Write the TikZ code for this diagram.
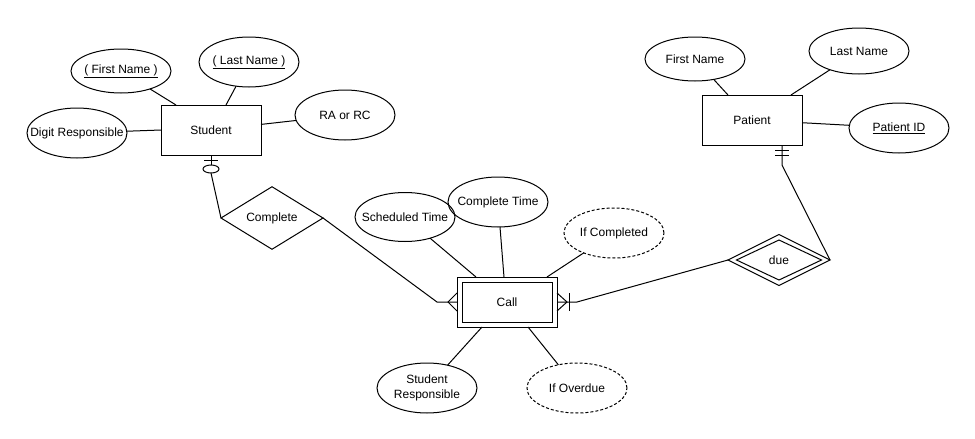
\documentclass[tikz,border=0pt]{standalone}
\usepackage{fontspec}
\setmainfont{Liberation Sans}
\usetikzlibrary{shapes.geometric,calc}
\begin{document}
\begin{tikzpicture}[x=1pt,y=-1pt,
  every node/.style={font=\fontsize{12}{15}\selectfont, inner sep=0pt, outer sep=0pt},
  conn/.style={line width=1pt},
  entity/.style={draw, line width=1pt, rectangle, minimum width=100pt, minimum height=50pt},
  attr/.style={draw, line width=1pt, ellipse, inner sep=-16pt, minimum width=100pt, minimum height=#1},
  attr/.default=50pt,
  derived/.style={attr, dash pattern=on 3pt off 2pt},
  rel/.style={draw, line width=1pt, diamond, minimum width=102pt, minimum height=50pt},
  tick/.style={line width=1pt},
]
\fill[white] (0,0) rectangle (975,439);
\useasboundingbox (0,0) rectangle (975,439);

% Student entity and its attributes
\node[entity] (student) at (211,130) {Student};
\node[attr=44pt] (sfirst) at (121,71) {\underline{( First Name )}};
\node[attr] (slast) at (249,62) {\underline{( Last Name )}};
\node[attr] (digit) at (77,133) {Digit Responsible};
\node[attr] (ra) at (345,115) {RA or RC};

% Relationship between Student and Call
\node[rel] (complete) at (272,218) {Complete};

% Call: weak entity (double border)
\node[entity] (call) at (507,302) {};
\node[draw, line width=1pt, minimum width=90pt, minimum height=40pt] (callin) at (call) {Call};
\node[attr=49pt] (sched) at (405,217) {Scheduled Time};
\node[attr] (ctime) at (498,202) {Complete Time};
\node[derived] (ifc) at (614,233) {If Completed};
\node[attr, align=center] (sresp) at (427,388) {Student\\Responsible};
\node[derived] (ifo) at (577,388) {If Overdue};

% Patient entity and its attributes
\node[entity] (patient) at (752,120) {Patient};
\node[attr=44pt] (pfirst) at (695,59) {First Name};
\node[attr=46pt] (plast) at (859,51) {Last Name};
\node[attr] (pid) at (899,128) {\underline{Patient ID}};

% Identifying relationship (double diamond)
\node[rel, minimum height=51pt] (due) at (779,260) {};
\node[draw, diamond, line width=1pt, minimum width=85pt, minimum height=40pt] (duein) at (due) {due};

% Attribute links
\draw[conn] (sfirst) -- ($(student.north west)!0.15!(student.north east)$);
\draw[conn] (slast) -- ($(student.north west)!0.65!(student.north east)$);
\draw[conn] (digit) -- (student.west);
\draw[conn] (ra) -- (student);

\draw[conn] (sched) -- ($(call.north west)!0.19!(call.north east)$);
\draw[conn] (ctime) -- ($(call.north west)!0.47!(call.north east)$);
\draw[conn] (ifc) -- ($(call.north west)!0.9!(call.north east)$);
\draw[conn] (sresp) -- ($(call.south west)!0.25!(call.south east)$);
\draw[conn] (ifo) -- ($(call.south west)!0.71!(call.south east)$);

\draw[conn] (pfirst) -- ($(patient.north west)!0.26!(patient.north east)$);
\draw[conn] (plast) -- ($(patient.north west)!0.89!(patient.north east)$);
\draw[conn] (pid) -- (patient);

% Student -- Complete : zero or one
\coordinate (sbar) at ($(student.south)+(0,5)$);
\node[draw, ellipse, line width=1pt, minimum width=16pt, minimum height=8pt] (szero) at ($(student.south)+(0,14)$) {};
\draw[conn] (student.south) -- (szero.north);
\draw[tick] ($(sbar)+(-7,0)$) -- ($(sbar)+(7,0)$);
\draw[conn] (szero.south) -- (complete.west);

% Complete -- Call : many
\coordinate (cbend) at ($(call.west)+(-20,0)$);
\draw[conn] (complete.east) -- (cbend) -- (call.west);
\draw[tick] ($(call.west)+(0,-9)$) -- ($(call.west)+(-9,0)$) -- ($(call.west)+(0,9)$);

% Call -- due : one or many
\coordinate (dbend) at ($(call.east)+(20,0)$);
\draw[conn] (call.east) -- (dbend) -- (due.west);
\draw[tick] ($(call.east)+(0,-9)$) -- ($(call.east)+(10,0)$) -- ($(call.east)+(0,9)$);
\draw[tick] ($(call.east)+(12,-9)$) -- ($(call.east)+(12,9)$);

% Patient -- due : exactly one
\coordinate (pfoot) at ($(patient.south west)!0.8!(patient.south east)$);
\coordinate (pend) at ($(pfoot)+(0,20)$);
\draw[conn] (pfoot) -- (pend) -- (due.east);
\draw[tick] ($(pfoot)+(-7,5)$) -- ($(pfoot)+(7,5)$);
\draw[tick] ($(pfoot)+(-7,10)$) -- ($(pfoot)+(7,10)$);
\end{tikzpicture}
\end{document}
